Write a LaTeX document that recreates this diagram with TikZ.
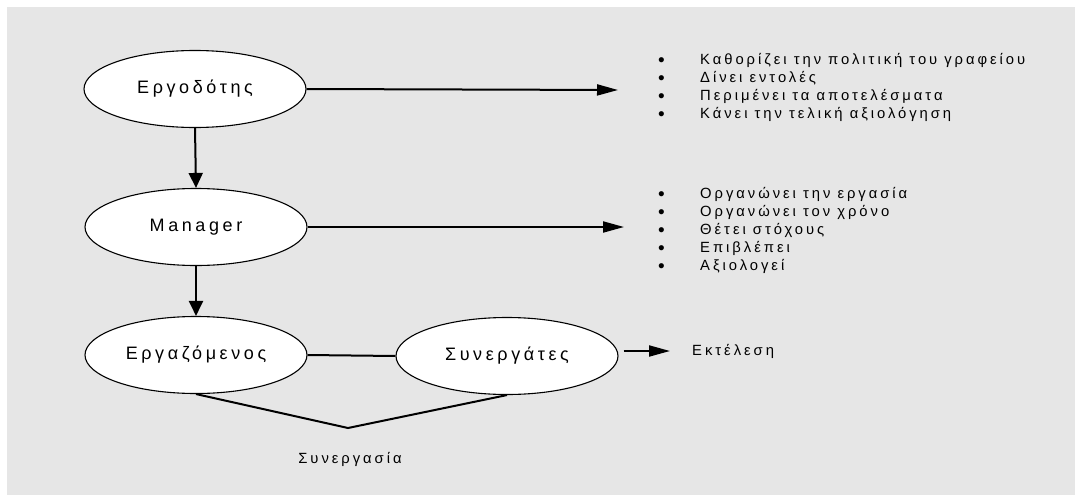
\documentclass[tikz,border=0pt]{standalone}
\usepackage{fontspec}
\setmainfont[LetterSpace=20]{Liberation Sans}
\usetikzlibrary{arrows.meta, positioning, shapes.geometric}
\definecolor{panelgray}{RGB}{230,230,230}

\begin{document}
\begin{tikzpicture}[x=1pt,y=-1pt,
    role/.style={draw,ellipse,fill=white,line width=1.1pt,minimum width=222pt,minimum height=77pt,inner sep=0pt,font=\fontsize{18}{21}\selectfont},
    link/.style={line width=2pt},
    flow/.style={link,-{Triangle[length=21pt,width=11pt]}},
    down/.style={link,-{Triangle[length=15pt,width=14pt]}},
    note/.style={anchor=base west,inner sep=0pt,font=\fontsize{14.8}{17}\selectfont},
    dot/.style={note,font=\fontsize{19}{21}\selectfont}]
    % Background panel
    \useasboundingbox (0,0) rectangle (1075,495);
    \fill[panelgray] (7,7) rectangle (1075,495);

    % Hierarchy
    \node[role] (boss) at (195,89) {Εργοδότης};
    \node[role] (mgr) at (196,227) {Manager};
    \node[role] (emp) at (196,355) {Εργαζόμενος};
    \node[role] (mates) at (507,356) {Συνεργάτες};

    \draw[down] (boss.south) -- (mgr.north);
    \draw[down] (mgr.south) -- (emp.north);

    % Roles (bullet lists)
    \coordinate (t1) at (618,90);
    \coordinate (t2) at (624,227);
    \draw[flow] (boss.east) -- (t1);
    \draw[flow] (mgr.east) -- (t2);

    \foreach \txt [count=\i] in {Καθορίζει την πολιτική του γραφείου, Δίνει εντολές, Περιμένει τα αποτελέσματα, Κάνει την τελική αξιολόγηση} {
        \node[dot] (bulA-\i) at (658,48.5+18*\i) {•};
        \node[note] (itemA-\i) at (700,46+18*\i) {\txt};
    }
    \foreach \txt [count=\i] in {Οργανώνει την εργασία, Οργανώνει τον χρόνο, Θέτει στόχους, Επιβλέπει, Αξιολογεί} {
        \node[dot] (bulB-\i) at (658,182.5+18*\i) {•};
        \node[note] (itemB-\i) at (700,180+18*\i) {\txt};
    }

    % Cooperation
    \draw[link] (emp.east) -- (mates.west);
    \coordinate (vtip) at (348,428);
    \draw[link] (emp.south) -- (vtip) -- (mates.south);
    \node[note,anchor=base] (coop) at (350,463) {Συνεργασία};

    \coordinate (t3) at (670,351);
    \draw[flow,shorten <=5pt] (mates.east |- t3) -- (t3);
    \node[note] (exec) at (692,355) {Εκτέλεση};
\end{tikzpicture}
\end{document}
